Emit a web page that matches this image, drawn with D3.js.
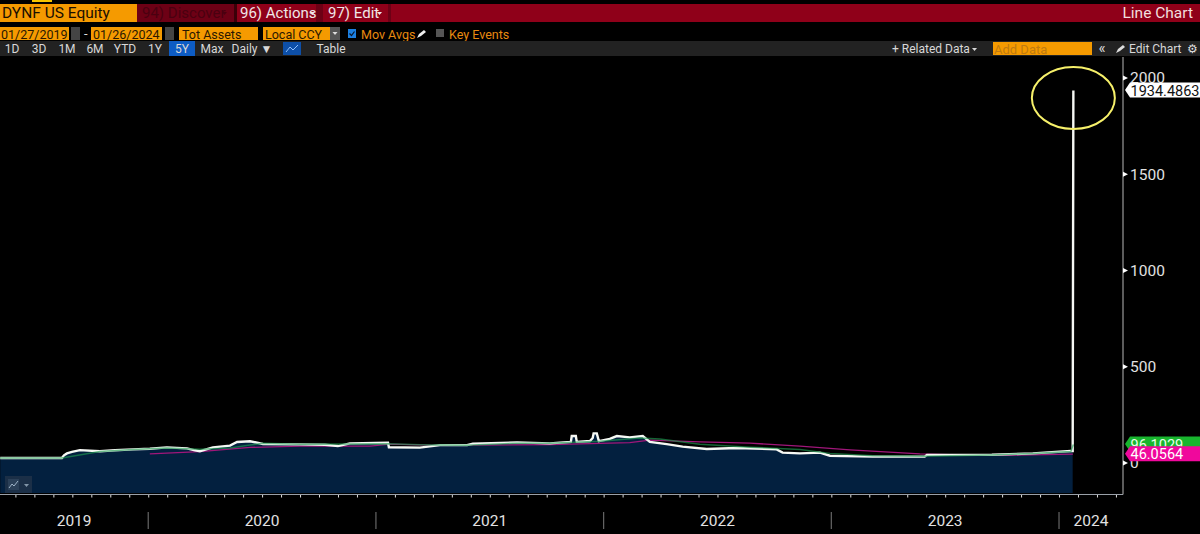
<!DOCTYPE html>
<html lang="en">
<head>
<meta charset="utf-8">
<title>DYNF US Equity - Line Chart</title>
<script src="https://cdn.jsdelivr.net/npm/d3@7"></script>
<style>
	html, body { margin: 0; padding: 0; background: #000; overflow: hidden; }
	svg { display: block; }
	text { font-family: Roboto, sans-serif; }
	.axis path { display: none; }
</style>
</head>
<body>
<script>
// tick labels
var yTicks = [0, 500, 1000, 1500, 2000];
var yearLabels = [2019, 2020, 2021, 2022, 2023, 2024];

// total assets (decimal year / value)
var assetYears = [2019.35, 2019.621, 2019.63, 2019.643, 2019.665, 2019.70, 2019.788, 2019.854, 2019.933, 2020.007,
	2020.082, 2020.17, 2020.205, 2020.227, 2020.258, 2020.284, 2020.359, 2020.39, 2020.447, 2020.504,
	2020.666, 2020.776, 2020.811, 2020.833, 2020.886, 2021.053, 2021.057, 2021.193, 2021.281, 2021.4,
	2021.426, 2021.62, 2021.764, 2021.808, 2021.856, 2021.86, 2021.878, 2021.882, 2021.94, 2021.952,
	2021.956, 2021.97, 2021.979, 2022.027, 2022.058, 2022.115, 2022.172, 2022.203, 2022.277, 2022.347,
	2022.453, 2022.584, 2022.76, 2022.786, 2022.862, 2022.95, 2022.994, 2023.183, 2023.41, 2023.42,
	2023.705, 2023.885, 2024.052, 2024.06];
var assetValues = [26, 26, 40, 50, 58, 67, 61, 66, 71, 74,
	81, 76, 66, 61, 72, 81, 90, 109, 113, 99,
	97, 95, 91, 88, 102, 105, 82, 80, 93, 93,
	100, 107, 102, 106, 110, 140, 140, 110, 114, 130,
	154, 154, 114, 125, 140, 133, 140, 110, 98, 85,
	73, 78, 71, 54, 50, 54, 38, 33, 33, 42,
	43, 50, 62, 62];
var lastYear = 2024.063;
var lastValue = 1934.4863;

// short moving average
var shortYears = [2019.35, 2019.621, 2019.788, 2019.933, 2020.082, 2020.227, 2020.359, 2020.447, 2020.504, 2020.666,
	2021.053, 2021.193, 2021.4, 2021.62, 2021.764, 2021.984, 2022.159, 2022.247, 2022.423, 2022.643,
	2022.862, 2022.994, 2023.183, 2023.41, 2023.705, 2023.885, 2024.052, 2024.063];
var shortValues = [26, 26, 60, 70, 78, 72, 78, 93, 103, 98,
	100, 95, 92, 103, 103, 113, 130, 125, 98, 82,
	70, 50, 38, 35, 42, 49, 60, 96.1029];

// long moving average
var longYears = [2020.007, 2020.227, 2020.447, 2020.666, 2020.974, 2021.061, 2021.281, 2021.764, 2022.115, 2022.203,
	2022.423, 2022.643, 2022.862, 2023.082, 2023.389, 2023.565, 2023.741, 2024.061];
var longValues = [47, 59, 81, 88, 88, 98, 92, 95, 106, 119,
	110, 103, 88, 68, 47, 42, 40, 46.0564];

var w = 1200, h = 534,
	plotRight = 1123,
	plotBottom = 494.5,
	fillBottom = 493;

var xScale = d3.scaleLinear().domain([2019.349, 2024.281]).range([0, plotRight]);
var yScale = d3.scaleLinear().domain([0, 2000]).range([463, 78]);

var svg = d3.select("body").append("svg").attr("width", w).attr("height", h);
svg.append("rect").attr("width", w).attr("height", h).attr("fill", "#000");

function box(x, y, bw, bh, fill) {
	return svg.append("rect").attr("x", x).attr("y", y).attr("width", bw).attr("height", bh).attr("fill", fill);
}
function label(x, y, str, fill, size, anchor) {
	return svg.append("text").attr("x", x).attr("y", y).attr("fill", fill)
		.attr("font-size", size || 12).attr("text-anchor", anchor || "start").text(str);
}
function caret(x, y, fill) {
	svg.append("path").attr("d", "M" + x + " " + y + "h5l-2.5 3z").attr("fill", fill);
}

// top red bar
box(0, 4, 1200, 18, "#8f0019");
box(0, 4, 137, 18, "#f59a00");
box(137, 4, 97, 18, "#6d0015");
box(234, 4, 3, 18, "#3a0008");
box(316, 4, 7, 18, "#6d0015");
box(388, 4, 3, 18, "#6d0015");
box(32, 0, 20, 2, "#f5c400");
label(2, 18, "DYNF US Equity", "#1a0f00", 15.5);
label(142, 18, "94) Discover", "#4a0010", 15);
caret(222, 12, "#4a0010");
label(240, 18, "96) Actions", "#f0e6e6", 15);
caret(310, 12, "#f0e6e6");
label(328, 18, "97) Edit", "#f0e6e6", 15);
caret(377, 12, "#f0e6e6");
label(1193, 18, "Line Chart", "#f2dede", 15.5, "end");

// date and field row
box(0, 27, 69, 13, "#f59a00");
box(71, 27, 9, 13, "#444");
label(84, 38, "-", "#ddd", 13);
box(91, 27, 71, 13, "#f59a00");
box(165, 27, 9, 13, "#444");
box(179, 27, 79, 13, "#f59a00");
box(263, 27, 67, 13, "#f59a00");
box(330, 27, 10, 13, "#555");
caret(332.5, 32, "#ddd");
label(1, 38.5, "01/27/2019", "#2a1800", 12.5);
label(93, 38.5, "01/26/2024", "#2a1800", 12.5);
label(182, 38.5, "Tot Assets", "#2a1800", 12.5);
label(265, 38.5, "Local CCY", "#2a1800", 12.5);
box(348, 29, 8, 9, "#1c7fe0");
svg.append("path").attr("d", "M349.5 33.5l2 2 3-4").attr("fill", "none").attr("stroke", "#08182c").attr("stroke-width", 1.2);
label(361, 38.5, "Mov Avgs", "#e88a10", 12.5);
svg.append("path").attr("d", "M417 38l2-4 5-4 2 2-5 4z").attr("fill", "#eee");
box(436, 29, 8, 8, "#555");
label(449, 38.5, "Key Events", "#e88a10", 12.5);

// range buttons row
box(0, 41, 1200, 15, "#222");
box(169, 41, 26, 15, "#0d5cc4");
box(283, 42, 18, 13, "#0d4fa8");
var rangeNames = ["1D", "3D", "1M", "6M", "YTD", "1Y", "5Y", "Max", "Daily ▼", "Table"];
var rangeX = [12, 39, 67, 95, 125, 155, 182, 212, 252, 331];
rangeNames.forEach(function(d, i) {
	label(rangeX[i], 53, d, "#d8d8d8", 12, "middle");
});
svg.append("path").attr("d", "M286 52l4-5 3 3 5-5").attr("fill", "none").attr("stroke", "#8fc0ff");
label(892, 53, "+ Related Data", "#d8d8d8", 12);
caret(972, 48, "#d8d8d8");
box(993, 42, 99, 13, "#f59a00");
label(994, 53.5, "Add Data", "#c07a10", 13);
label(1102, 53, "«", "#ddd", 15, "middle");
label(1129, 53, "Edit Chart", "#d8d8d8", 12);
svg.append("path").attr("d", "M1116 53l2-4 5-4 2 2-5 4z").attr("fill", "#ddd");
label(1192, 53, "⚙", "#ddd", 12, "middle");

// area under the total assets line
var area = d3.area()
	.x(function(d, i) { return xScale(assetYears[i]); })
	.y0(fillBottom)
	.y1(function(d) { return yScale(d); });
svg.append("path").attr("d", area(assetValues)).attr("fill", "#03203f");

var line = function(xs) {
	return d3.line().x(function(d, i) { return xScale(xs[i]); }).y(function(d) { return yScale(d); });
};

svg.append("path").attr("d", line(longYears)(longValues))
	.attr("fill", "none").attr("stroke", "#a0167a").attr("stroke-width", 1.3);
svg.append("path").attr("d", line(assetYears.concat([lastYear]))(assetValues.concat([lastValue])))
	.attr("fill", "none").attr("stroke", "#f6f8f4").attr("stroke-width", 2.4);
svg.append("path").attr("d", line(shortYears)(shortValues))
	.attr("fill", "none").attr("stroke", "#1f9a50").attr("stroke-width", 1.5).attr("opacity", 0.65);

// right axis
var yAxis = d3.axisRight(yScale).tickValues(yTicks).tickSize(0).tickPadding(7).tickFormat(d3.format("d"));
svg.append("g").attr("class", "axis").attr("transform", "translate(" + plotRight + ",0)").call(yAxis)
	.call(function(g) {
		g.selectAll("text").attr("fill", "#e2e2e2").attr("font-size", 15.5);
	});
svg.append("line").attr("x1", plotRight).attr("x2", plotRight).attr("y1", 57).attr("y2", plotBottom)
	.attr("stroke", "#9a9a9a").attr("stroke-width", 1.2);
svg.selectAll(".ymark").data(yTicks).enter().append("path")
	.attr("class", "ymark")
	.attr("d", function(d) { return "M" + plotRight + " " + (yScale(d) - 2.5) + "l5 2.5l-5 2.5z"; })
	.attr("fill", "#fff");

// bottom axis: month ticks and year separators
var monthTicks = d3.range(2019.4167, 2024.281, 1 / 12);
var xAxis = d3.axisBottom(xScale).tickValues(monthTicks).tickSize(3).tickFormat("");
svg.append("g").attr("class", "axis").attr("transform", "translate(0," + plotBottom + ")").call(xAxis)
	.call(function(g) { g.selectAll("line").attr("stroke", "#ddd"); });
svg.append("line").attr("x1", 0).attr("x2", plotRight).attr("y1", plotBottom).attr("y2", plotBottom)
	.attr("stroke", "#9aa0a8").attr("stroke-width", 1.2);

svg.selectAll(".yearsep").data(yearLabels.slice(1)).enter().append("line")
	.attr("class", "yearsep")
	.attr("x1", function(d) { return xScale(d); }).attr("x2", function(d) { return xScale(d); })
	.attr("y1", 512).attr("y2", 529)
	.attr("stroke", "#666").attr("stroke-width", 1.2);
svg.selectAll(".yearlab").data(yearLabels).enter().append("text")
	.attr("class", "yearlab")
	.attr("x", function(d) {
		return (xScale(Math.max(d, xScale.domain()[0])) + xScale(Math.min(d + 1, xScale.domain()[1]))) / 2;
	})
	.attr("y", 526).attr("text-anchor", "middle").attr("fill", "#e2e2e2").attr("font-size", 15.5)
	.text(function(d) { return d; });

// value tags on the right axis
function tag(value, str, fill, textFill) {
	var yy = yScale(value) - 0.5, tagH = 15;
	svg.append("path")
		.attr("d", "M1125 " + yy + "l5 -" + tagH / 2 + "H1200V" + (yy + tagH / 2) + "H1130z")
		.attr("fill", fill);
	label(1130.5, yy + 5.5, str, textFill, 14.5);
}
tag(shortValues[shortValues.length - 1], "96.1029", "#18b52e", "#e8ffe8");
tag(longValues[longValues.length - 1] , "46.0564", "#f0089c", "#fff");
tag(lastValue, "1934.4863", "#fff", "#111");

// hand drawn circle around the spike
svg.append("ellipse").attr("cx", xScale(lastYear)).attr("cy", 98).attr("rx", 41.5).attr("ry", 31)
	.attr("fill", "none").attr("stroke", "#f6f06a").attr("stroke-width", 2);

// small chart type button
box(5, 476, 27, 17, "#1b2f47");
box(8, 479, 11, 11, "#2b4058");
svg.append("path").attr("d", "M9 488l3-4 2 2 4-5").attr("fill", "none").attr("stroke", "#9fb4c8");
caret(24, 484, "#8295a8");
</script>
</body>
</html>
